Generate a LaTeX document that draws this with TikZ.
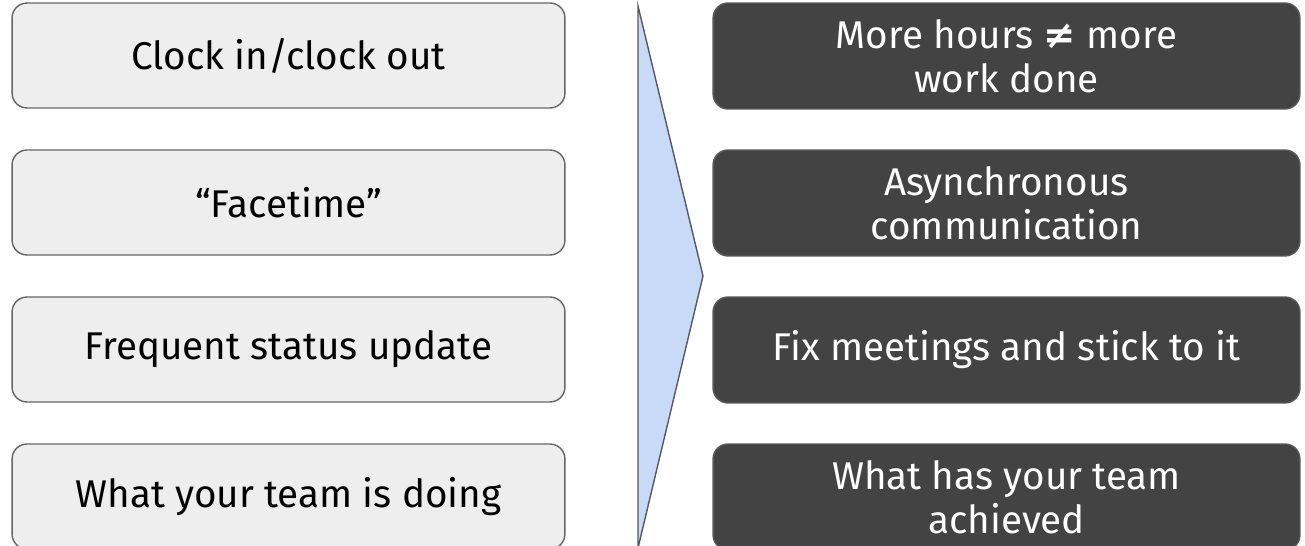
\documentclass[tikz,border=0pt]{standalone}
\usepackage{fontspec}
\setmainfont{Fira Sans}[Ligatures=NoCommon]
\newfontfamily\symbolfont{DejaVu Sans}
\definecolor{oldfill}{HTML}{EEEEEE}
\definecolor{oldline}{HTML}{666666}
\definecolor{newfill}{HTML}{434343}
\definecolor{wedgefill}{HTML}{C9DAF8}
\definecolor{wedgeline}{HTML}{595959}
\begin{document}
\begin{tikzpicture}[x=0.02cm, y=-0.02cm,
    oldbox/.style={draw=oldline, fill=oldfill, line width=0.8pt, rounded corners=0.3cm,
      minimum width=11.06cm, minimum height=2.1cm, align=center,
      font=\fontsize{22}{25}\selectfont},
    newbox/.style={draw=wedgeline, fill=newfill, text=white, line width=0.8pt, rounded corners=0.3cm,
      minimum width=11.74cm, minimum height=2.12cm, align=center, inner sep=0pt,
      font=\fontsize{22}{25}\selectfont}]
    \useasboundingbox (0, 0) rectangle (1305, 546);

    % Arrow wedge in the middle
    \draw[draw=wedgeline, fill=wedgefill, line width=0.8pt] (638, 6) -- (703, 276) -- (638, 548) -- cycle;

    % Left column (old habits)
    \node[oldbox] (clock) at (288.5, 55.5) {Clock in/clock out};
    \node[oldbox] (facetime) at (288.5, 202.5) {“Facetime”};
    \node[oldbox] (status) at (288.5, 349.5) {Frequent status update};
    \node[oldbox] (doing) at (288.5, 496.5) {What your team is doing};

    % Right column (new habits)
    \node[newbox] (hours) at (1006.5, 56) {More hours {\symbolfont\bfseries ≠} more\\work done};
    \node[newbox] (async) at (1006.5, 203) {Asynchronous\\communication};
    \node[newbox] (meetings) at (1006.5, 350) {Fix meetings and stick to it};
    \node[newbox] (achieved) at (1006.5, 497) {What has your team\\achieved};
\end{tikzpicture}
\end{document}
